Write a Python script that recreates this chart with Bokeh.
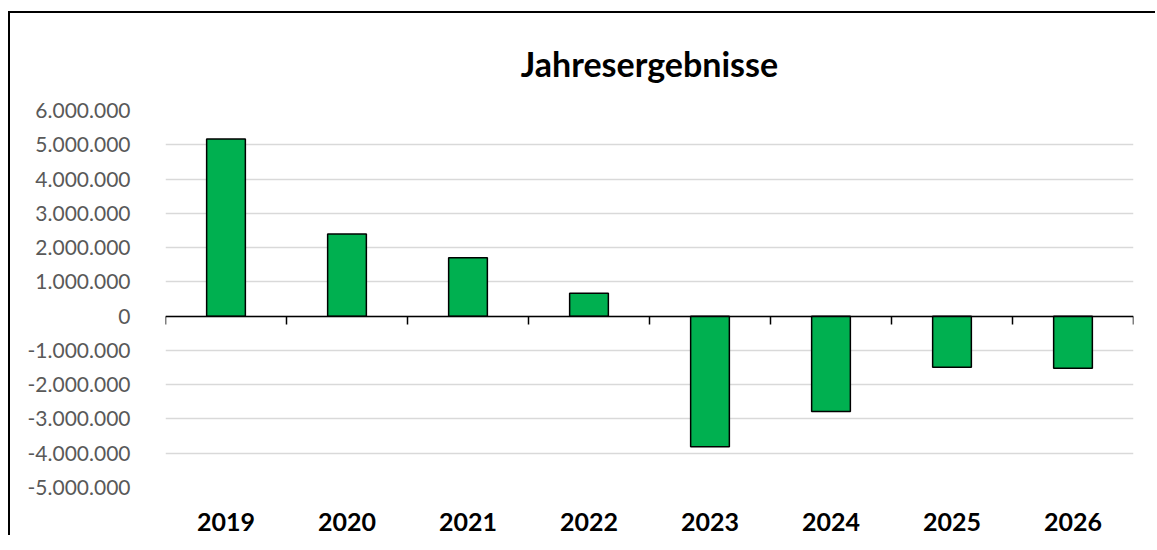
from bokeh.plotting import figure
from bokeh.models import (LinearAxis, FixedTicker, CustomJSTickFormatter, Range1d,
                          ColumnDataSource, Title)
from bokeh.embed import file_html
from bokeh.resources import INLINE

years = ["2019", "2020", "2021", "2022", "2023", "2024", "2025", "2026"]
results = [5170000, 2400000, 1700000, 670000, -3810000, -2780000, -1490000, -1520000]
y_ticks = [-5000000, -4000000, -3000000, -2000000, -1000000, 0,
           1000000, 2000000, 3000000, 4000000, 5000000, 6000000]

FONT = "Lato"

pos = [i + 0.5 for i in range(len(years))]
src = ColumnDataSource(dict(x=pos, y=results))

p = figure(width=1147, height=524, output_backend="svg", toolbar_location=None,
           x_range=Range1d(0, len(years)), y_range=Range1d(y_ticks[0], y_ticks[-1]),
           x_axis_location=None,
           min_border_left=155, min_border_top=97, min_border_bottom=50, min_border_right=24,
           outline_line_color=None, border_fill_color="white")
p.styles = {"box-shadow": "-2px -2px 0px 0px black",
            "margin-top": "13px", "margin-left": "10px"}

p.title = Title(text="Jahresergebnisse", align="center", text_font=FONT,
                text_font_size="34px", text_font_style="bold", text_color="black",
                standoff=53)

# gridlines
p.xgrid.grid_line_color = None
p.ygrid.ticker = FixedTicker(ticks=y_ticks)
p.ygrid.grid_line_color = "#d9d9d9"
p.ygrid.grid_line_width = 1.5

# y axis
ya = p.yaxis[0]
ya.ticker = FixedTicker(ticks=y_ticks)
ya.formatter = CustomJSTickFormatter(code="""
    return Math.round(tick).toString().replace(/\\B(?=(\\d{3})+(?!\\d))/g, ".");
""")
ya.axis_line_color = None
ya.major_tick_line_color = None
ya.minor_tick_line_color = None
ya.major_label_text_font = FONT
ya.major_label_text_font_size = "21px"
ya.major_label_text_color = "#595959"
ya.major_label_standoff = 29

# bars
p.vbar(x="x", top="y", bottom=0, width=0.32, source=src,
       fill_color="#00B050", line_color="black", line_width=1.5)

# zero axis line with tick marks between categories
za = LinearAxis(fixed_location=0,
                ticker=FixedTicker(ticks=list(range(len(years) + 1))),
                formatter=CustomJSTickFormatter(code="return '';"))
za.axis_line_color = "black"
za.axis_line_width = 1.5
za.major_tick_line_color = "black"
za.major_tick_line_width = 1.5
za.major_tick_in = 0
za.major_tick_out = 8
za.minor_tick_line_color = None
za.major_label_standoff = 0
p.add_layout(za, "below")

# category labels at bottom
xa = LinearAxis(ticker=FixedTicker(ticks=pos),
                major_label_overrides={pv: yr for pv, yr in zip(pos, years)})
xa.axis_line_color = None
xa.major_tick_line_color = None
xa.minor_tick_line_color = None
xa.major_label_text_font = FONT
xa.major_label_text_font_size = "25px"
xa.major_label_text_font_style = "bold"
xa.major_label_text_color = "black"
xa.major_label_standoff = 19
p.add_layout(xa, "below")

open("out.html", "w").write(file_html(p, INLINE))
